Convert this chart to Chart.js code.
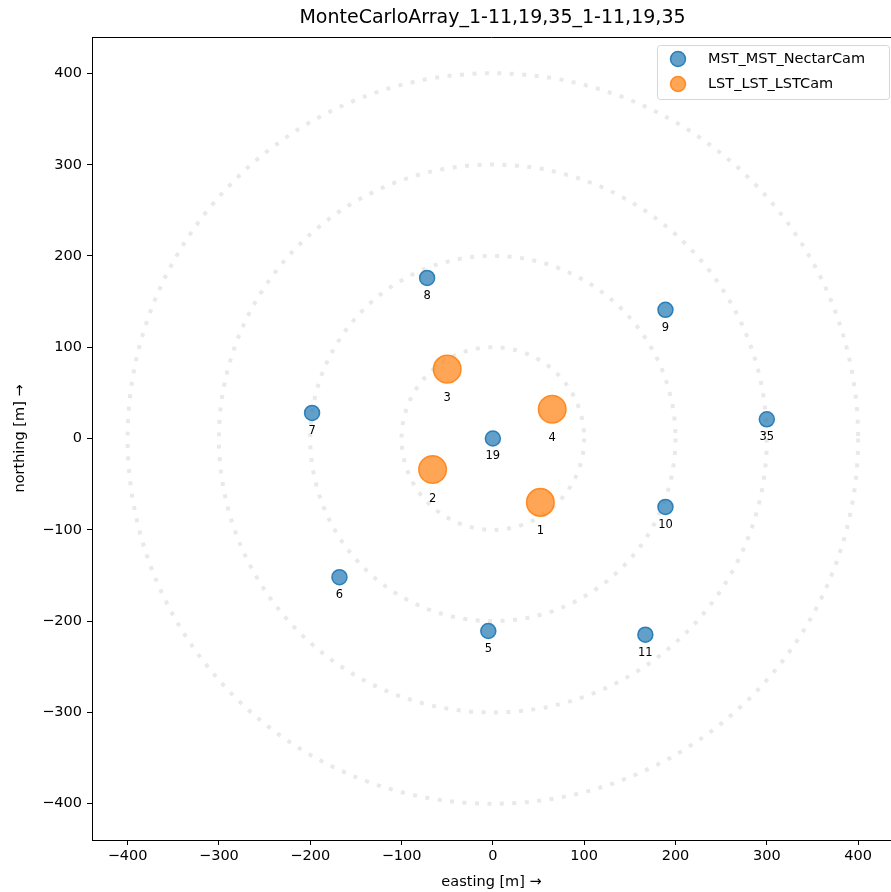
<!DOCTYPE html>
<html>
<head>
<meta charset="utf-8">
<script src="https://cdn.jsdelivr.net/npm/chart.js@4"></script>
<style>
  html, body { margin: 0; padding: 0; background: #fff; overflow: hidden; }
  canvas { display: block; }
</style>
</head>
<body>
<canvas id="arrayChart" width="891" height="892"></canvas>
<script>
// telescope positions
const mstIds = ['8', '9', '7', '19', '35', '10', '6', '5', '11'];
const mstEasting = [-72, 189, -198, 0, 300, 189, -168, -5, 167];
const mstNorthing = [176, 141, 28, 0, 21, -75, -152, -211, -215];

const lstIds = ['1', '2', '3', '4'];
const lstEasting = [52, -66, -50, 65];
const lstNorthing = [-70, -34, 76, 32];

const seriesNames = ['MST_MST_NectarCam', 'LST_LST_LSTCam'];
const xTicks = [-400, -300, -200, -100, 0, 100, 200, 300, 400];
const yTicks = [-400, -300, -200, -100, 0, 100, 200, 300, 400];
const ringRadii = [100, 200, 300, 400];

const FONT = 'DejaVu Sans';
const blueFill = 'rgba(31, 119, 180, 0.7)';
const blueEdge = 'rgba(31, 119, 180, 0.9)';
const orangeFill = 'rgba(255, 127, 14, 0.7)';
const orangeEdge = 'rgba(255, 127, 14, 0.85)';

function toPoints(xs, ys) {
    return xs.map((x, i) => ({ x: x, y: ys[i] }));
}

function minusLabel(v) {
    return v < 0 ? '\u2212' + Math.abs(v) : String(v);
}

// dotted reference rings, top spine, title, telescope ids, legend box
const decorations = {
    id: 'decorations',
    beforeDatasetsDraw(chart) {
        const ctx = chart.ctx;
        const xs = chart.scales.x, ys = chart.scales.y;
        const cx = xs.getPixelForValue(0), cy = ys.getPixelForValue(0);
        const area = chart.chartArea;
        ctx.save();
        ctx.beginPath();
        ctx.rect(area.left, area.top, area.right - area.left, area.bottom - area.top);
        ctx.clip();
        ctx.strokeStyle = '#e9e9e9';
        ctx.lineWidth = 4;
        ctx.setLineDash([4, 8.5]);
        ringRadii.forEach(r => {
            const rad = xs.getPixelForValue(r) - cx;
            ctx.beginPath();
            ctx.arc(cx, cy, rad, 0, Math.PI * 2);
            ctx.stroke();
        });
        ctx.restore();
    },
    afterDatasetsDraw(chart) {
        const ctx = chart.ctx;
        const area = chart.chartArea;
        ctx.save();
        // top spine
        ctx.strokeStyle = '#000';
        ctx.lineWidth = 1;
        ctx.beginPath();
        ctx.moveTo(area.left, area.top + 0.5);
        ctx.lineTo(area.right, area.top + 0.5);
        ctx.stroke();

        // title
        ctx.fillStyle = '#000';
        ctx.font = '19px "' + FONT + '"';
        ctx.textAlign = 'center';
        ctx.textBaseline = 'middle';
        ctx.fillText('MonteCarloArray_1-11,19,35_1-11,19,35', (area.left + 893) / 2, 18);

        // ids under each telescope
        ctx.font = '11.5px "' + FONT + '"';
        const offsets = [18, 29];
        const ids = [mstIds, lstIds];
        chart.data.datasets.forEach((ds, di) => {
            chart.getDatasetMeta(di).data.forEach((pt, j) => {
                ctx.fillText(ids[di][j], pt.x, pt.y + offsets[di]);
            });
        });

        // legend
        const lx = 657, ly = 45, lw = 232, lh = 54;
        ctx.fillStyle = 'rgba(255,255,255,0.8)';
        ctx.strokeStyle = '#d6d6d6';
        ctx.lineWidth = 1;
        ctx.beginPath();
        ctx.roundRect(lx + 0.5, ly + 0.5, lw, lh, 3);
        ctx.fill();
        ctx.stroke();
        const fills = [blueFill, orangeFill];
        const edges = [blueEdge, orangeEdge];
        ctx.font = '14.5px "' + FONT + '"';
        ctx.textAlign = 'left';
        seriesNames.forEach((name, i) => {
            const yy = 59 + i * 25;
            ctx.beginPath();
            ctx.arc(678, yy, 7.5, 0, Math.PI * 2);
            ctx.fillStyle = fills[i];
            ctx.fill();
            ctx.strokeStyle = edges[i];
            ctx.lineWidth = 1.5;
            ctx.stroke();
            ctx.fillStyle = '#000';
            ctx.fillText(name, 708, yy);
        });
        ctx.restore();
    }
};

function axisOptions(ticksList, min, max, titleText, size, isX) {
    return {
        type: 'linear',
        min: min,
        max: max,
        afterBuildTicks: s => { s.ticks = ticksList.map(v => ({ value: v })); },
        afterFit: s => {
            if (isX) { s.height = size; } else { s.width = size; }
            s.paddingLeft = 0; s.paddingRight = 0;
            s.paddingTop = 0; s.paddingBottom = 0;
        },
        grid: { drawOnChartArea: false, drawTicks: true, tickLength: 5, tickColor: '#000', tickWidth: 1 },
        border: { display: true, color: '#000', width: 1 },
        ticks: {
            color: '#000',
            padding: isX ? 3 : 5,
            maxRotation: 0,
            font: { family: FONT, size: 14.5 },
            callback: v => minusLabel(v)
        },
        title: {
            display: true,
            text: titleText,
            color: '#000',
            font: { family: FONT, size: 14.5 },
            padding: isX ? { top: 4, bottom: 1 } : { top: 12, bottom: 4 }
        }
    };
}

new Chart(document.getElementById('arrayChart'), {
    type: 'scatter',
    data: {
        datasets: [{
            label: seriesNames[0],
            data: toPoints(mstEasting, mstNorthing),
            backgroundColor: blueFill,
            borderColor: blueEdge,
            borderWidth: 1.5,
            pointRadius: 7.5,
            pointHoverRadius: 7.5
        }, {
            label: seriesNames[1],
            data: toPoints(lstEasting, lstNorthing),
            backgroundColor: orangeFill,
            borderColor: orangeEdge,
            borderWidth: 1.5,
            pointRadius: 13.8,
            pointHoverRadius: 13.8
        }]
    },
    options: {
        responsive: false,
        animation: false,
        layout: { autoPadding: false, padding: { top: 37, left: 0, right: 0, bottom: 0 } },
        plugins: {
            legend: { display: false },
            title: { display: false },
            tooltip: { enabled: false }
        },
        scales: {
            x: axisOptions(xTicks, -439, 436, 'easting [m] \u2192', 52, true),
            y: axisOptions(yTicks, -440, 440, 'northing [m] \u2192', 92, false)
        }
    },
    plugins: [decorations]
});
</script>
</body>
</html>
